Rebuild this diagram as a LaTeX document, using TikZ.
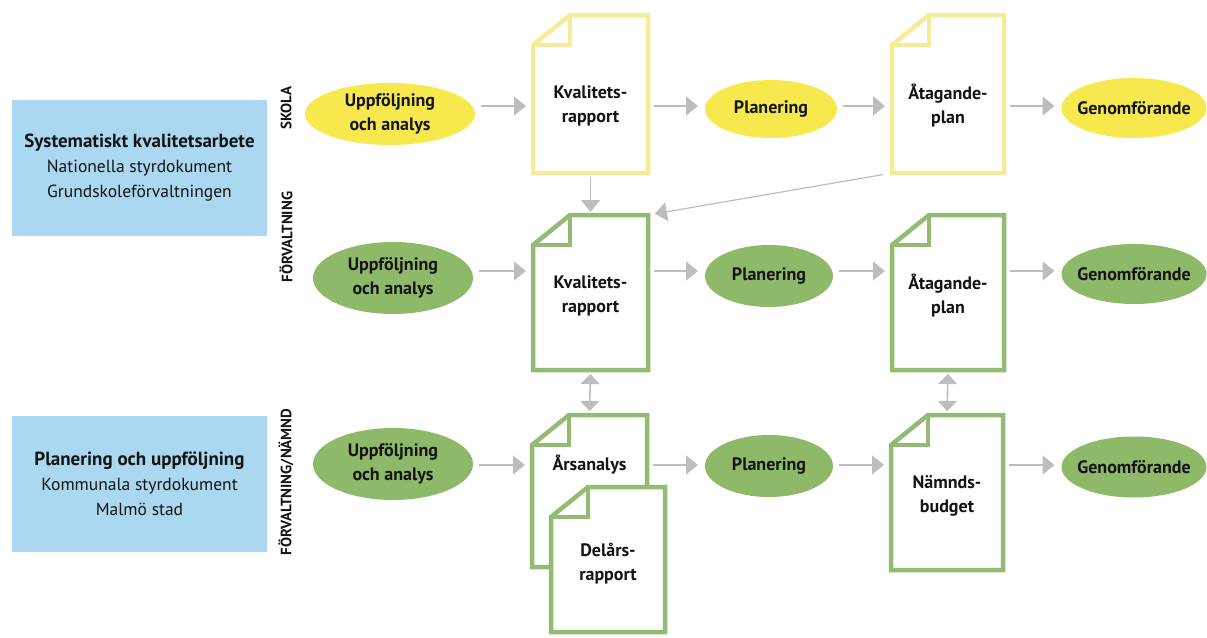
\documentclass[tikz,border=0pt]{standalone}
\usepackage{fontspec}
\setmainfont{PT Sans}
\usetikzlibrary{shapes.geometric,arrows.meta,calc}
\definecolor{boxblue}{HTML}{A9D8F0}
\definecolor{ylw}{HTML}{F7E84E}
\definecolor{ylwline}{HTML}{F4EC98}
\definecolor{grn}{HTML}{8DB968}
\definecolor{grnline}{HTML}{94BB74}
\definecolor{arrgray}{HTML}{BDBDBD}
\definecolor{txt}{HTML}{141414}
\newcommand\docdraw[2]{%
  \draw[line width=4.5pt,#2,fill=white,line join=miter]
    ($(#1.north west)+(37,0)$) -- (#1.north east) -- (#1.south east)
    -- (#1.south west) -- ($(#1.north west)+(0,30)$) -- cycle;
  \draw[line width=4.5pt,#2,line join=miter]
    ($(#1.north west)+(37,0)$) -- ++(0,30) -- ($(#1.north west)+(0,30)$);
}
\begin{document}
\begin{tikzpicture}[x=1pt,y=-1pt,
  every node/.style={inner sep=0pt,outer sep=0pt,text=txt},
  lbl/.style={font=\bfseries\fontsize{18}{24}\selectfont,align=center},
  vlbl/.style={font=\bfseries\fontsize{15}{17}\selectfont,rotate=90},
  bbox/.style={rectangle,fill=boxblue,minimum width=255,minimum height=136,
    align=center,font=\fontsize{17.5}{25}\selectfont},
  ellY/.style={ellipse,fill=ylw},
  ellG/.style={ellipse,fill=grn},
  doc/.style={rectangle,minimum width=115,minimum height=155},
  arr/.style={draw=arrgray,line width=1.6pt,-{Triangle[length=12pt,width=19pt]},
    shorten <=6pt,shorten >=7pt},
  darr/.style={draw=arrgray,line width=1.6pt,
    {Triangle[length=10pt,width=19pt]}-{Triangle[length=10pt,width=19pt]},
    shorten <=4pt,shorten >=4pt},
]
\useasboundingbox (0,0) rectangle (1207,637);

% left boxes
\node[bbox] (b1) at (139.5,168) {{\bfseries\fontsize{19}{25}\selectfont Systematiskt kvalitetsarbete}\\Nationella styrdokument\\Grundskoleförvaltningen};
\node[bbox] (b2) at (139.5,484) {{\bfseries\fontsize{19}{25}\selectfont Planering och uppföljning}\\Kommunala styrdokument\\Malmö stad};

% vertical labels
\node[vlbl] (l1) at (286,108) {SKOLA};
\node[vlbl] (l2) at (286,237) {FÖRVALTNING};
\node[vlbl] (l3) at (286,482) {FÖRVALTNING/NÄMND};

% row coordinates
\coordinate (r1) at (0,106);
\coordinate (r2) at (0,271);
\coordinate (r3) at (0,465);

% ---------- row 1 (skola) ----------
\node[ellY,minimum width=170,minimum height=62] (e1) at (390,114) {};
\node[lbl] (e1t) at (e1) {Uppföljning\\och analys};
\node[doc,minimum width=115,minimum height=158] (d1) at (590.5,94) {};
\docdraw{d1}{ylwline}
\node[lbl] (d1t) at (590.5,106) {Kvalitets-\\rapport};
\node[ellY,minimum width=132,minimum height=58] (p1) at (771,109) {};
\node[lbl] (p1t) at (p1) {Planering};
\node[doc,minimum width=112,minimum height=158] (d2) at (948,94) {};
\docdraw{d2}{ylwline}
\node[lbl] (d2t) at (948,106) {Åtagande-\\plan};
\node[ellY,minimum width=145,minimum height=60] (g1) at (1134,108) {};
\node[lbl] (g1t) at (g1) {Genomförande};

% ---------- row 2 (förvaltning) ----------
\node[ellG,minimum width=160,minimum height=72] (e2) at (393,278) {};
\node[lbl] (e2t) at (e2) {Uppföljning\\och analys};
\node[doc,minimum width=115,minimum height=155] (d3) at (590.5,292.5) {};
\docdraw{d3}{grnline}
\node[lbl] (d3t) at (590.5,296) {Kvalitets-\\rapport};
\node[ellG,minimum width=128,minimum height=62] (p2) at (769,276) {};
\node[lbl] (p2t) at (p2) {Planering};
\node[doc,minimum width=112,minimum height=155] (d4) at (948,292.5) {};
\docdraw{d4}{grnline}
\node[lbl] (d4t) at (948,296) {Åtagande-\\plan};
\node[ellG,minimum width=145,minimum height=60] (g2) at (1134,274) {};
\node[lbl] (g2t) at (g2) {Genomförande};

% ---------- row 3 (förvaltning/nämnd) ----------
\node[ellG,minimum width=160,minimum height=72] (e3) at (393,464) {};
\node[lbl] (e3t) at (e3) {Uppföljning\\och analys};
\node[doc,minimum width=115,minimum height=152] (d5) at (589.5,491) {};
\docdraw{d5}{grnline}
\node[lbl] (d5t) at (589.5,465) {Årsanalys};
\node[doc,minimum width=114,minimum height=145] (d6) at (608,559.5) {};
\docdraw{d6}{grnline}
\node[lbl] (d6t) at (608,564) {Delårs-\\rapport};
\node[ellG,minimum width=128,minimum height=62] (p3) at (769,466) {};
\node[lbl] (p3t) at (p3) {Planering};
\node[doc,minimum width=112,minimum height=155] (d7) at (947,492.5) {};
\docdraw{d7}{grnline}
\node[lbl] (d7t) at (947,496) {Nämnds-\\budget};
\node[ellG,minimum width=145,minimum height=61] (g3) at (1134,467) {};
\node[lbl] (g3t) at (g3) {Genomförande};

% ---------- connectors ----------
\foreach \a/\b/\r in {e1/d1/r1,d1/p1/r1,p1/d2/r1,d2/g1/r1,
                       e2/d3/r2,d3/p2/r2,p2/d4/r2,d4/g2/r2,
                       e3/d5/r3,d5/p3/r3,p3/d7/r3,d7/g3/r3}
  \draw[arr] (\a.east |- \r) -- (\b.west |- \r);

\draw[arr,shorten <=4pt,shorten >=3pt] (d1.south) -- (d3.north);
\draw[arr,shorten <=9pt,shorten >=7pt,line width=1.2pt] (d2.south west) -- (d3.north east);
\draw[darr] (d3.south) -- (d5.north);
\draw[darr] (d4.south) -- (d7.north);
\end{tikzpicture}
\end{document}
